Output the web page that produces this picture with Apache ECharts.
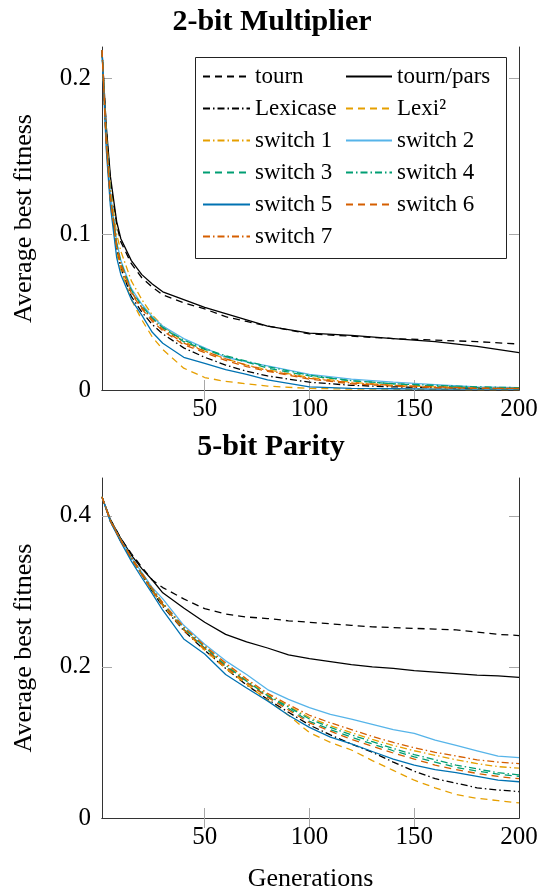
<!DOCTYPE html>
<html lang="en">
<head>
<meta charset="UTF-8">
<script src="https://cdn.jsdelivr.net/npm/echarts@6/dist/echarts.min.js"></script>
<style>
  html, body { margin: 0; padding: 0; background: #fff; }
  #chart { width: 547px; height: 893px; }
</style>
</head>
<body>
<div id="chart"></div>
<script>
// series order (same in both panels)
var seriesNames = ['tourn', 'tourn/pars', 'Lexicase', 'Lexi²', 'switch 1', 'switch 2',
                   'switch 3', 'switch 4', 'switch 5', 'switch 6', 'switch 7'];

// ---- 2-bit Multiplier ----
var multGens = [1, 3, 5, 8, 10, 15, 20, 25, 30, 40, 50, 60, 70, 80, 100, 120, 140, 160, 180, 200];
var multTourn     = [0.218,0.168,0.134,0.106,0.095,0.081,0.072,0.066,0.061,0.056,0.052,0.047,0.044,0.041,0.036,0.0345,0.033,0.032,0.031,0.0295];
var multTournPars = [0.218,0.170,0.137,0.108,0.097,0.083,0.074,0.068,0.063,0.058,0.053,0.049,0.045,0.041,0.0365,0.035,0.033,0.031,0.028,0.024];
var multLexicase  = [0.218,0.160,0.122,0.090,0.078,0.060,0.050,0.042,0.036,0.027,0.021,0.016,0.012,0.009,0.005,0.003,0.002,0.0015,0.001,0.001];
var multLexi2     = [0.218,0.158,0.120,0.088,0.077,0.058,0.045,0.034,0.026,0.014,0.008,0.0055,0.004,0.0025,0.001,0.0006,0.0005,0.0004,0.0003,0.0003];
var multSwitch1   = [0.218,0.165,0.130,0.100,0.089,0.070,0.058,0.048,0.041,0.031,0.025,0.020,0.016,0.013,0.008,0.005,0.003,0.002,0.0015,0.001];
var multSwitch2   = [0.218,0.162,0.126,0.095,0.083,0.065,0.055,0.047,0.041,0.033,0.027,0.021,0.018,0.0155,0.010,0.007,0.005,0.0035,0.002,0.0015];
var multSwitch3   = [0.218,0.161,0.125,0.094,0.082,0.064,0.054,0.046,0.040,0.031,0.026,0.0215,0.018,0.014,0.009,0.006,0.004,0.0025,0.0015,0.001];
var multSwitch4   = [0.218,0.161,0.124,0.093,0.081,0.063,0.053,0.046,0.040,0.032,0.0265,0.022,0.0185,0.015,0.0095,0.006,0.004,0.003,0.002,0.0015];
var multSwitch5   = [0.218,0.155,0.118,0.085,0.074,0.058,0.048,0.037,0.030,0.021,0.017,0.013,0.010,0.0065,0.002,0.001,0.0008,0.0006,0.0005,0.0005];
var multSwitch6   = [0.218,0.160,0.123,0.092,0.080,0.062,0.052,0.044,0.038,0.029,0.024,0.019,0.015,0.012,0.007,0.004,0.0025,0.0015,0.001,0.001];
var multSwitch7   = [0.218,0.160,0.124,0.093,0.081,0.063,0.053,0.045,0.039,0.030,0.025,0.020,0.016,0.0125,0.0075,0.0045,0.003,0.002,0.0012,0.001];

// ---- 5-bit Parity ----
var parGens = [1, 5, 10, 15, 20, 25, 30, 40, 50, 60, 70, 80, 90, 100, 110, 120, 130, 140, 150, 160, 170, 180, 190, 200];
var parTourn     = [0.425,0.395,0.370,0.350,0.332,0.315,0.305,0.290,0.277,0.270,0.266,0.264,0.261,0.259,0.257,0.255,0.253,0.252,0.251,0.250,0.249,0.246,0.243,0.2415];
var parTournPars = [0.425,0.395,0.370,0.348,0.330,0.315,0.298,0.278,0.259,0.243,0.233,0.225,0.216,0.211,0.207,0.203,0.200,0.198,0.195,0.193,0.191,0.189,0.188,0.186];
var parLexicase  = [0.425,0.393,0.366,0.343,0.322,0.300,0.280,0.248,0.222,0.198,0.176,0.157,0.140,0.123,0.110,0.098,0.087,0.074,0.062,0.052,0.046,0.040,0.037,0.035];
var parLexi2     = [0.425,0.393,0.366,0.343,0.322,0.300,0.281,0.249,0.222,0.198,0.177,0.156,0.136,0.113,0.100,0.090,0.076,0.063,0.050,0.040,0.031,0.026,0.023,0.020];
var parSwitch1   = [0.425,0.394,0.367,0.344,0.323,0.302,0.284,0.252,0.227,0.203,0.182,0.163,0.148,0.133,0.122,0.113,0.104,0.096,0.089,0.083,0.077,0.072,0.068,0.066];
var parSwitch2   = [0.425,0.393,0.368,0.345,0.325,0.305,0.290,0.255,0.230,0.208,0.190,0.170,0.157,0.146,0.137,0.131,0.124,0.117,0.112,0.103,0.096,0.089,0.082,0.080];
var parSwitch3   = [0.425,0.393,0.367,0.344,0.323,0.302,0.283,0.250,0.225,0.201,0.180,0.161,0.145,0.128,0.117,0.107,0.098,0.089,0.081,0.074,0.067,0.062,0.058,0.055];
var parSwitch4   = [0.425,0.394,0.368,0.345,0.324,0.303,0.284,0.251,0.226,0.202,0.181,0.162,0.147,0.131,0.120,0.110,0.101,0.092,0.084,0.077,0.070,0.065,0.060,0.057];
var parSwitch5   = [0.425,0.392,0.365,0.340,0.318,0.297,0.275,0.237,0.217,0.190,0.172,0.155,0.136,0.120,0.107,0.098,0.088,0.078,0.070,0.064,0.060,0.055,0.050,0.048];
var parSwitch6   = [0.425,0.393,0.367,0.344,0.322,0.301,0.282,0.249,0.224,0.200,0.179,0.160,0.143,0.126,0.115,0.104,0.095,0.086,0.078,0.070,0.064,0.059,0.055,0.052];
var parSwitch7   = [0.425,0.394,0.368,0.345,0.324,0.304,0.285,0.253,0.228,0.205,0.184,0.165,0.150,0.136,0.126,0.117,0.108,0.100,0.093,0.087,0.082,0.077,0.074,0.072];

var xTicks = [50, 100, 150, 200];
var multYTicks = [0, 0.1, 0.2];
var parYTicks = [0, 0.2, 0.4];

var multValues = [multTourn, multTournPars, multLexicase, multLexi2, multSwitch1, multSwitch2,
                  multSwitch3, multSwitch4, multSwitch5, multSwitch6, multSwitch7];
var parValues = [parTourn, parTournPars, parLexicase, parLexi2, parSwitch1, parSwitch2,
                 parSwitch3, parSwitch4, parSwitch5, parSwitch6, parSwitch7];

var lineColors = ['#000', '#000', '#000', '#E69F00', '#E69F00', '#56B4E9',
                  '#009E73', '#009E73', '#0072B2', '#D55E00', '#D55E00'];
var lineDash = ['dashed', 'solid', 'dashdot', 'dashed', 'dashdot', 'solid',
                'dashed', 'dashdot', 'solid', 'dashed', 'dashdot'];
var dashTypes = { solid: 'solid', dashed: [7, 5], dashdot: [7, 3, 1.5, 3] };

var FONT = 'Liberation Serif';
var tickGray = '#a8a8a8';
var boxColor = '#333';

var chart = echarts.init(document.getElementById('chart'));

function makeSeries(gens, values, gridIdx) {
  return seriesNames.map(function (name, i) {
    return {
      name: name,
      type: 'line',
      xAxisIndex: gridIdx * 2,
      yAxisIndex: gridIdx * 2,
      symbol: 'none',
      data: gens.map(function (g, j) { return [g, values[i][j]]; }),
      lineStyle: { color: lineColors[i], width: 1.3, type: dashTypes[lineDash[i]] },
      itemStyle: { color: lineColors[i] },
      emphasis: { disabled: true }
    };
  });
}

function xAxes(gridIdx, showName) {
  return [{
    type: 'value', gridIndex: gridIdx, min: 1, max: 200,
    name: showName ? 'Generations' : '',
    nameLocation: 'middle', nameGap: 48,
    nameTextStyle: { fontFamily: FONT, fontSize: 26, color: '#000' },
    axisLine: { lineStyle: { color: boxColor, width: 1 } },
    axisTick: { inside: true, length: 10, customValues: [50, 100, 150], lineStyle: { color: tickGray } },
    axisLabel: { customValues: xTicks, margin: 7, fontFamily: FONT, fontSize: 25, color: '#000' },
    splitLine: { show: false }
  }, {
    type: 'value', gridIndex: gridIdx, min: 1, max: 200, position: 'top',
    axisLine: { lineStyle: { color: boxColor, width: 1 } },
    axisTick: { inside: true, length: 10, customValues: [50, 100, 150], lineStyle: { color: tickGray } },
    axisLabel: { show: false },
    splitLine: { show: false }
  }];
}

function yAxes(gridIdx, maxV, ticks) {
  var inner = ticks.slice(1);
  return [{
    type: 'value', gridIndex: gridIdx, min: 0, max: maxV,
    name: 'Average best fitness',
    nameLocation: 'middle', nameGap: 65, nameRotate: 90,
    nameTextStyle: { fontFamily: FONT, fontSize: 26, color: '#000' },
    axisLine: { show: true, lineStyle: { color: boxColor, width: 1 } },
    axisTick: { inside: true, length: 10, customValues: inner, lineStyle: { color: tickGray } },
    axisLabel: {
      customValues: ticks, margin: 11, fontFamily: FONT, fontSize: 25, color: '#000',
      formatter: function (v) { return v === 0 ? '0' : String(v); }
    },
    splitLine: { show: false }
  }, {
    type: 'value', gridIndex: gridIdx, min: 0, max: maxV, position: 'right',
    axisLine: { show: true, lineStyle: { color: boxColor, width: 1 } },
    axisTick: { inside: true, length: 10, customValues: inner, lineStyle: { color: tickGray } },
    axisLabel: { show: false },
    splitLine: { show: false }
  }];
}

var legendText = { fontFamily: FONT, fontSize: 23, color: '#000' };

var option = {
  animation: false,
  backgroundColor: '#fff',
  title: [
    { text: '2-bit Multiplier', left: 267, top: 2, textAlign: 'center',
      textStyle: { fontFamily: FONT, fontSize: 30, fontWeight: 'bold', color: '#000' } },
    { text: '5-bit Parity', left: 266, top: 427, textAlign: 'center',
      textStyle: { fontFamily: FONT, fontSize: 30, fontWeight: 'bold', color: '#000' } }
  ],
  grid: [
    { left: 102, right: 28, top: 47, height: 343 },
    { left: 102, right: 28, top: 478, height: 343 }
  ],
  xAxis: xAxes(0, false).concat(xAxes(1, true)),
  yAxis: yAxes(0, 0.22, multYTicks).concat(yAxes(1, 0.45, parYTicks)),
  graphic: [{
    type: 'rect', left: 195, top: 57, z: 3,
    shape: { width: 311, height: 201 },
    style: { fill: '#fff', stroke: '#222', lineWidth: 1 }
  }],
  legend: [{
    data: ['tourn', 'Lexicase', 'switch 1', 'switch 3', 'switch 5', 'switch 7'],
    orient: 'vertical', left: 202, top: 65, padding: 0, itemGap: 9,
    itemWidth: 47, itemHeight: 2, selectedMode: false, z: 5,
    itemStyle: { opacity: 0 },
    textStyle: legendText
  }, {
    data: ['tourn/pars', 'Lexi²', 'switch 2', 'switch 4', 'switch 6'],
    orient: 'vertical', left: 345, top: 65, padding: 0, itemGap: 9,
    itemWidth: 46, itemHeight: 2, selectedMode: false, z: 5,
    itemStyle: { opacity: 0 },
    textStyle: legendText
  }],
  series: makeSeries(multGens, multValues, 0).concat(makeSeries(parGens, parValues, 1))
};

chart.setOption(option);
</script>
</body>
</html>
